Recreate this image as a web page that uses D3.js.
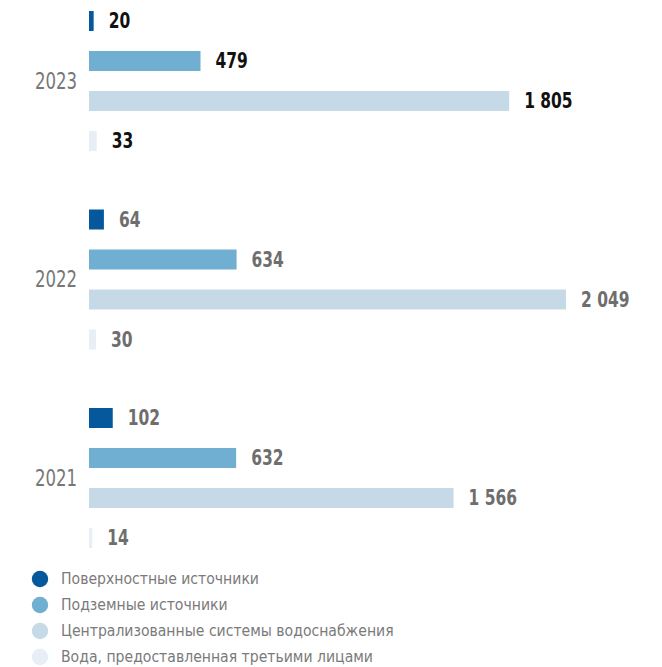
<!DOCTYPE html>
<html><head><meta charset="utf-8">
<script src="https://cdn.jsdelivr.net/npm/d3@7"></script>
<style>
html,body{margin:0;padding:0;background:#fff;}
svg{display:block;}
text{font-family:"Liberation Sans Narrow","DejaVu Sans Condensed","Roboto",sans-serif;}
</style></head>
<body>
<svg id="chart" width="662" height="667"></svg>
<script>
const years = ["2023", "2022", "2021"];
const seriesNames = ["Поверхностные источники", "Подземные источники", "Централизованные системы водоснабжения", "Вода, предоставленная третьими лицами"];
const surface = [20, 64, 102];
const underground = [479, 634, 632];
const centralized = [1805, 2049, 1566];
const thirdParty = [33, 30, 14];
const colors = ["#05589c", "#70afd2", "#c6d9e6", "#e7eef5"];

const seriesValues = [surface, underground, centralized, thirdParty];
const fmt = v => d3.format(",")(v).replace(/,/g, " ");

const svg = d3.select("#chart");
const x = d3.scaleLinear().domain([0, 2049]).range([89, 566]);
const yOuter = d3.scaleBand().domain(years).range([11, 548]).paddingInner(0.2947).paddingOuter(0);
const yInner = d3.scaleBand().domain(d3.range(4)).range([0, yOuter.bandwidth()]).paddingInner(0.5).paddingOuter(0);

const groups = svg.selectAll("g.year").data(years).join("g")
  .attr("class", "year")
  .attr("transform", d => `translate(0,${yOuter(d)})`);

groups.append("text")
  .attr("transform", `translate(77,${yOuter.bandwidth() / 2}) scale(0.8,1)`)
  .attr("text-anchor", "end").attr("dominant-baseline", "central")
  .attr("fill", "#777777").attr("font-size", "23px")
  .text(d => d);

groups.each(function(year, yi) {
  const g = d3.select(this);
  const rows = seriesValues.map((arr, si) => ({ si, v: arr[yi] }));
  g.selectAll("rect").data(rows).join("rect")
    .attr("x", x(0)).attr("y", d => yInner(d.si))
    .attr("width", d => x(d.v) - x(0)).attr("height", yInner.bandwidth())
    .attr("fill", d => colors[d.si]);
  g.selectAll("text.val").data(rows).join("text")
    .attr("class", "val")
    .attr("transform", d => `translate(${x(d.v) + 15},${yInner(d.si) + yInner.bandwidth() / 2}) scale(0.8,1)`)
    .attr("dominant-baseline", "central")
    .attr("font-weight", "bold").attr("font-size", "21.5px")
    .attr("fill", yi === 0 ? "#111111" : "#6e6e6e")
    .text(d => fmt(d.v));
});

const legendY = d3.scalePoint().domain(d3.range(4)).range([579, 657]);
const legend = svg.selectAll("g.leg").data(seriesNames).join("g")
  .attr("class", "leg")
  .attr("transform", (d, i) => `translate(0,${legendY(i)})`);
legend.append("circle").attr("cx", 40).attr("cy", 0).attr("r", 8.2).attr("fill", (d, i) => colors[i]);
legend.append("text").attr("x", 61).attr("y", 0).attr("dominant-baseline", "central")
  .attr("fill", "#7a7a7a").attr("font-size", "15.6px").text(d => d);
</script>
</body></html>
